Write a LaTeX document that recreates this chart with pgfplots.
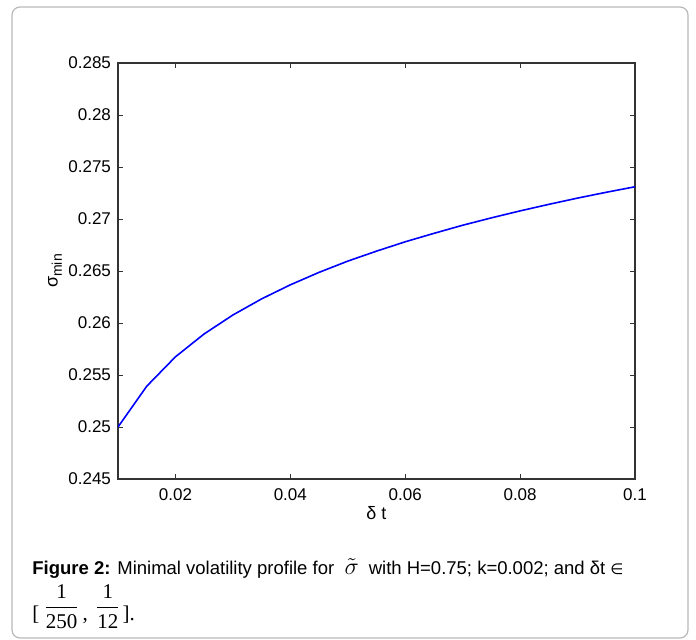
\documentclass[border=0pt]{standalone}
\usepackage{fontspec}
\setmainfont{Liberation Sans}
\newfontfamily\dejavu{DejaVu Sans}
\newfontfamily\serif{Liberation Serif}
\usepackage{pgfplots}
\pgfplotsset{compat=1.18}
\begin{document}
\begin{tikzpicture}
\draw[black!28, line width=0.6pt, rounded corners=4pt] (6pt,0.5pt) rectangle (344pt,316pt);
\begin{axis}[
  at={(59pt,80pt)}, anchor=south west,
  scale only axis, width=258.5pt, height=208pt,
  xmin=0.01, xmax=0.1, ymin=0.245, ymax=0.285,
  xtick={0.02,0.04,0.06,0.08,0.1},
  ytick={0.245,0.25,0.255,0.26,0.265,0.27,0.275,0.28,0.285},
  scaled ticks=false,
  /pgf/number format/fixed, /pgf/number format/precision=3,
  /pgf/number format/assume math mode=true,
  tick align=inside, tick pos=both, major tick length=2.3pt,
  tick style={black!80, line width=0.5pt},
  axis line style={black!80, line width=0.7pt},
  ticklabel style={font=\fontsize{8.5}{10}\selectfont},
  xticklabel style={yshift=-1.5pt},
  xlabel={δ t}, ylabel={σ\raisebox{-0.45ex}{\fontsize{7}{8}\selectfont min}},
  label style={font=\fontsize{9}{10}\selectfont},
  xlabel style={at={(axis description cs:0.5,0)}, anchor=center, yshift=-17pt},
  ylabel style={at={(axis description cs:-0.122,0.5)}, anchor=center},
]
\addplot[color={rgb,255:red,0;green,0;blue,255}, line width=0.8pt] coordinates {
(0.010,0.25000) (0.015,0.25392) (0.020,0.25675) (0.025,0.25895) (0.030,0.26077)
(0.035,0.26232) (0.040,0.26367) (0.045,0.26487) (0.050,0.26595) (0.055,0.26691)
(0.060,0.26781) (0.065,0.26862) (0.070,0.26940) (0.075,0.27011) (0.080,0.27078)
(0.085,0.27141) (0.090,0.27201) (0.095,0.27257) (0.100,0.27310)
};
\end{axis}
\node[anchor=base west, inner sep=0, font=\fontsize{9.25}{11}\selectfont] at (16pt,32.5pt)
  {\textbf{Figure 2:} Minimal volatility profile for \ {\fontsize{12.5}{13}\selectfont$\tilde{\sigma}$}\kern5pt with H=0.75; k=0.002; and δt {\dejavu\fontsize{7.5}{9}\selectfont ∈}};
\node[anchor=base west, inner sep=0, font=\fontsize{10.5}{12}\selectfont\serif] at (16pt,9.5pt)
  {[\kern2pt\raisebox{3.4pt}{$\displaystyle\frac{\mbox{\serif 1}}{\mbox{\serif 250}}$}\kern1.5pt,\kern3.5pt\raisebox{3.4pt}{$\displaystyle\frac{\mbox{\serif 1}}{\mbox{\serif 12}}$}\kern1pt].};
\pgfresetboundingbox
\useasboundingbox (0pt,0pt) rectangle (348pt,319.5pt);
\end{tikzpicture}
\end{document}
